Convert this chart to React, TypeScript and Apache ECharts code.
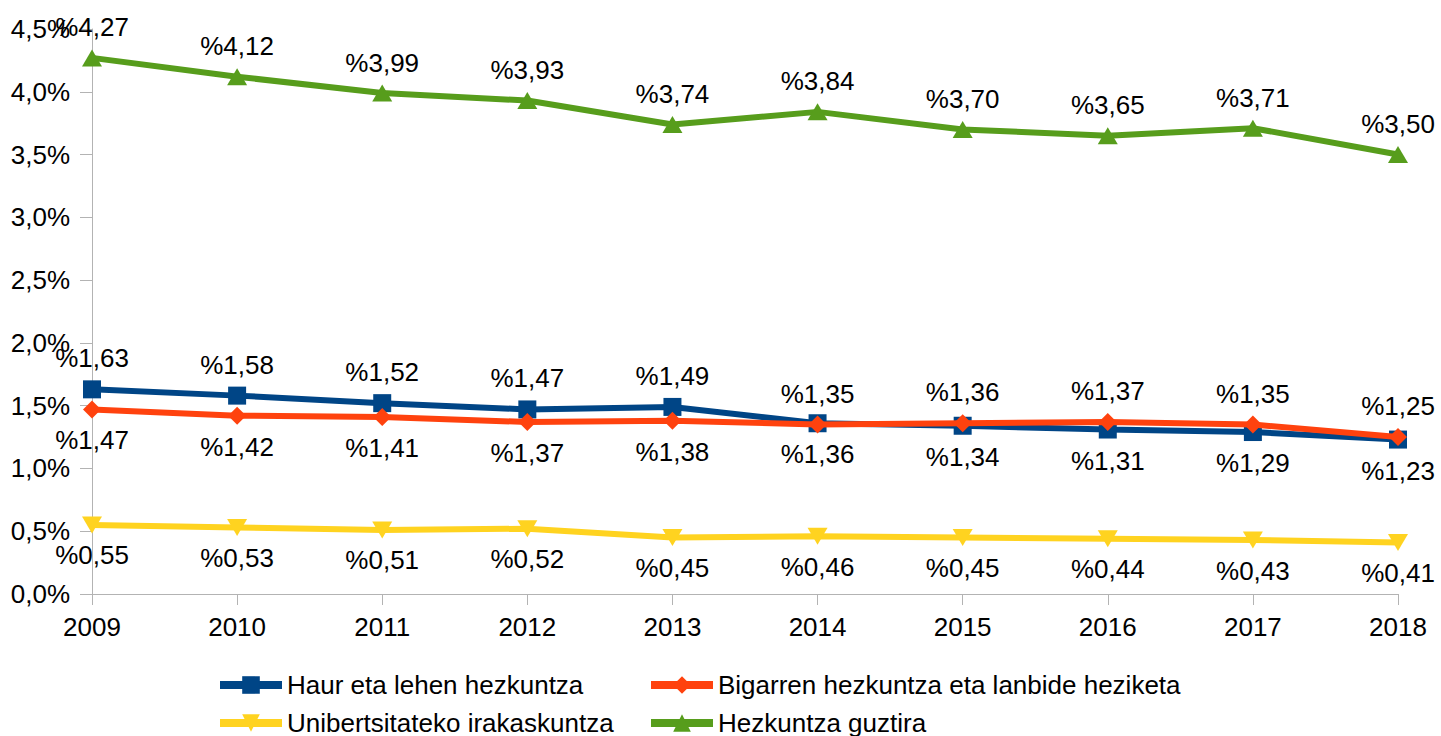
import React, { useEffect, useRef } from "react";
import * as echarts from "echarts";

const years = ["2009", "2010", "2011", "2012", "2013", "2014", "2015", "2016", "2017", "2018"];
const haur = [1.63, 1.58, 1.52, 1.47, 1.49, 1.36, 1.34, 1.31, 1.29, 1.23];
const bigarren = [1.47, 1.42, 1.41, 1.37, 1.38, 1.35, 1.36, 1.37, 1.35, 1.25];
const unibertsitate = [0.55, 0.53, 0.51, 0.52, 0.45, 0.46, 0.45, 0.44, 0.43, 0.41];
const guztira = [4.27, 4.12, 3.99, 3.93, 3.74, 3.84, 3.7, 3.65, 3.71, 3.5];

const names = [
  "Haur eta lehen hezkuntza",
  "Bigarren hezkuntza eta lanbide heziketa",
  "Unibertsitateko irakaskuntza",
  "Hezkuntza guztira",
];

const FONT = "'Liberation Sans', Arial, sans-serif";
// from this index on, the orange labels sit above and the blue ones below
const SWAP_FROM = 5;

const fmt = (v: number) => "%" + v.toFixed(2).replace(".", ",");

export default function App() {
  const ref = useRef<HTMLDivElement>(null);
  useEffect(() => {
    if (!ref.current) return;
    const chart = echarts.init(ref.current, null, { renderer: "svg" });
    const labelBase = {
      show: true,
      color: "#000",
      fontFamily: FONT,
      fontSize: 26,
      distance: 9,
      formatter: (p: any) => fmt(p.value),
    };
    const mk = (vals: number[], pos: (i: number) => string) =>
      vals.map((v, i) => ({ value: v, label: { position: pos(i) } }));

    const legendCommon = {
      orient: "horizontal",
      padding: 0,
      itemWidth: 62,
      itemHeight: 22,
      textStyle: { fontFamily: FONT, fontSize: 26, color: "#000" },
      lineStyle: { width: 8 },
    };

    chart.setOption({
      animation: false,
      backgroundColor: "#fff",
      grid: { left: 92, right: 43, top: 29, bottom: 142 },
      legend: [
        { ...legendCommon, data: [names[0]], left: 216, top: 672 },
        { ...legendCommon, data: [names[1]], left: 647, top: 672 },
        { ...legendCommon, data: [names[2]], left: 216, top: 710 },
        { ...legendCommon, data: [names[3]], left: 647, top: 710 },
      ],
      xAxis: {
        type: "category",
        data: years,
        boundaryGap: false,
        axisLine: { lineStyle: { color: "#b3b3b3", width: 1 } },
        axisTick: { show: true, length: 11, alignWithLabel: true, lineStyle: { color: "#b3b3b3" } },
        axisLabel: { color: "#000", fontFamily: FONT, fontSize: 26, margin: 20 },
        splitLine: { show: false },
      },
      yAxis: {
        type: "value",
        min: 0,
        max: 4.5,
        interval: 0.5,
        axisLine: { show: true, lineStyle: { color: "#b3b3b3", width: 1 } },
        axisTick: { show: true, length: 12, lineStyle: { color: "#b3b3b3" } },
        axisLabel: {
          color: "#000",
          fontFamily: FONT,
          fontSize: 26,
          margin: 22,
          formatter: (v: number) => v.toFixed(1).replace(".", ",") + "%",
        },
        splitLine: { show: false },
      },
      series: [
        {
          name: names[0],
          type: "line",
          data: mk(haur, (i) => (i < SWAP_FROM ? "top" : "bottom")),
          color: "#004586",
          symbol: "rect",
          symbolSize: 18,
          lineStyle: { width: 6 },
          label: labelBase,
          z: 2,
        },
        {
          name: names[1],
          type: "line",
          data: mk(bigarren, (i) => (i < SWAP_FROM ? "bottom" : "top")),
          color: "#ff420e",
          symbol: "diamond",
          symbolSize: 18,
          lineStyle: { width: 6 },
          label: labelBase,
          z: 3,
        },
        {
          name: names[2],
          type: "line",
          data: mk(unibertsitate, () => "bottom"),
          color: "#ffd320",
          symbol: "triangle",
          symbolRotate: 180,
          symbolSize: [20, 17],
          lineStyle: { width: 6 },
          label: labelBase,
          z: 2,
        },
        {
          name: names[3],
          type: "line",
          data: mk(guztira, () => "top"),
          color: "#579d1c",
          symbol: "triangle",
          symbolSize: [20, 17],
          lineStyle: { width: 6 },
          label: labelBase,
          z: 2,
        },
      ],
    });
    return () => chart.dispose();
  }, []);
  return (
    <div
      ref={ref}
      style={{ position: "fixed", left: 0, top: 0, width: 1441, height: 736, background: "#fff" }}
    />
  );
}
